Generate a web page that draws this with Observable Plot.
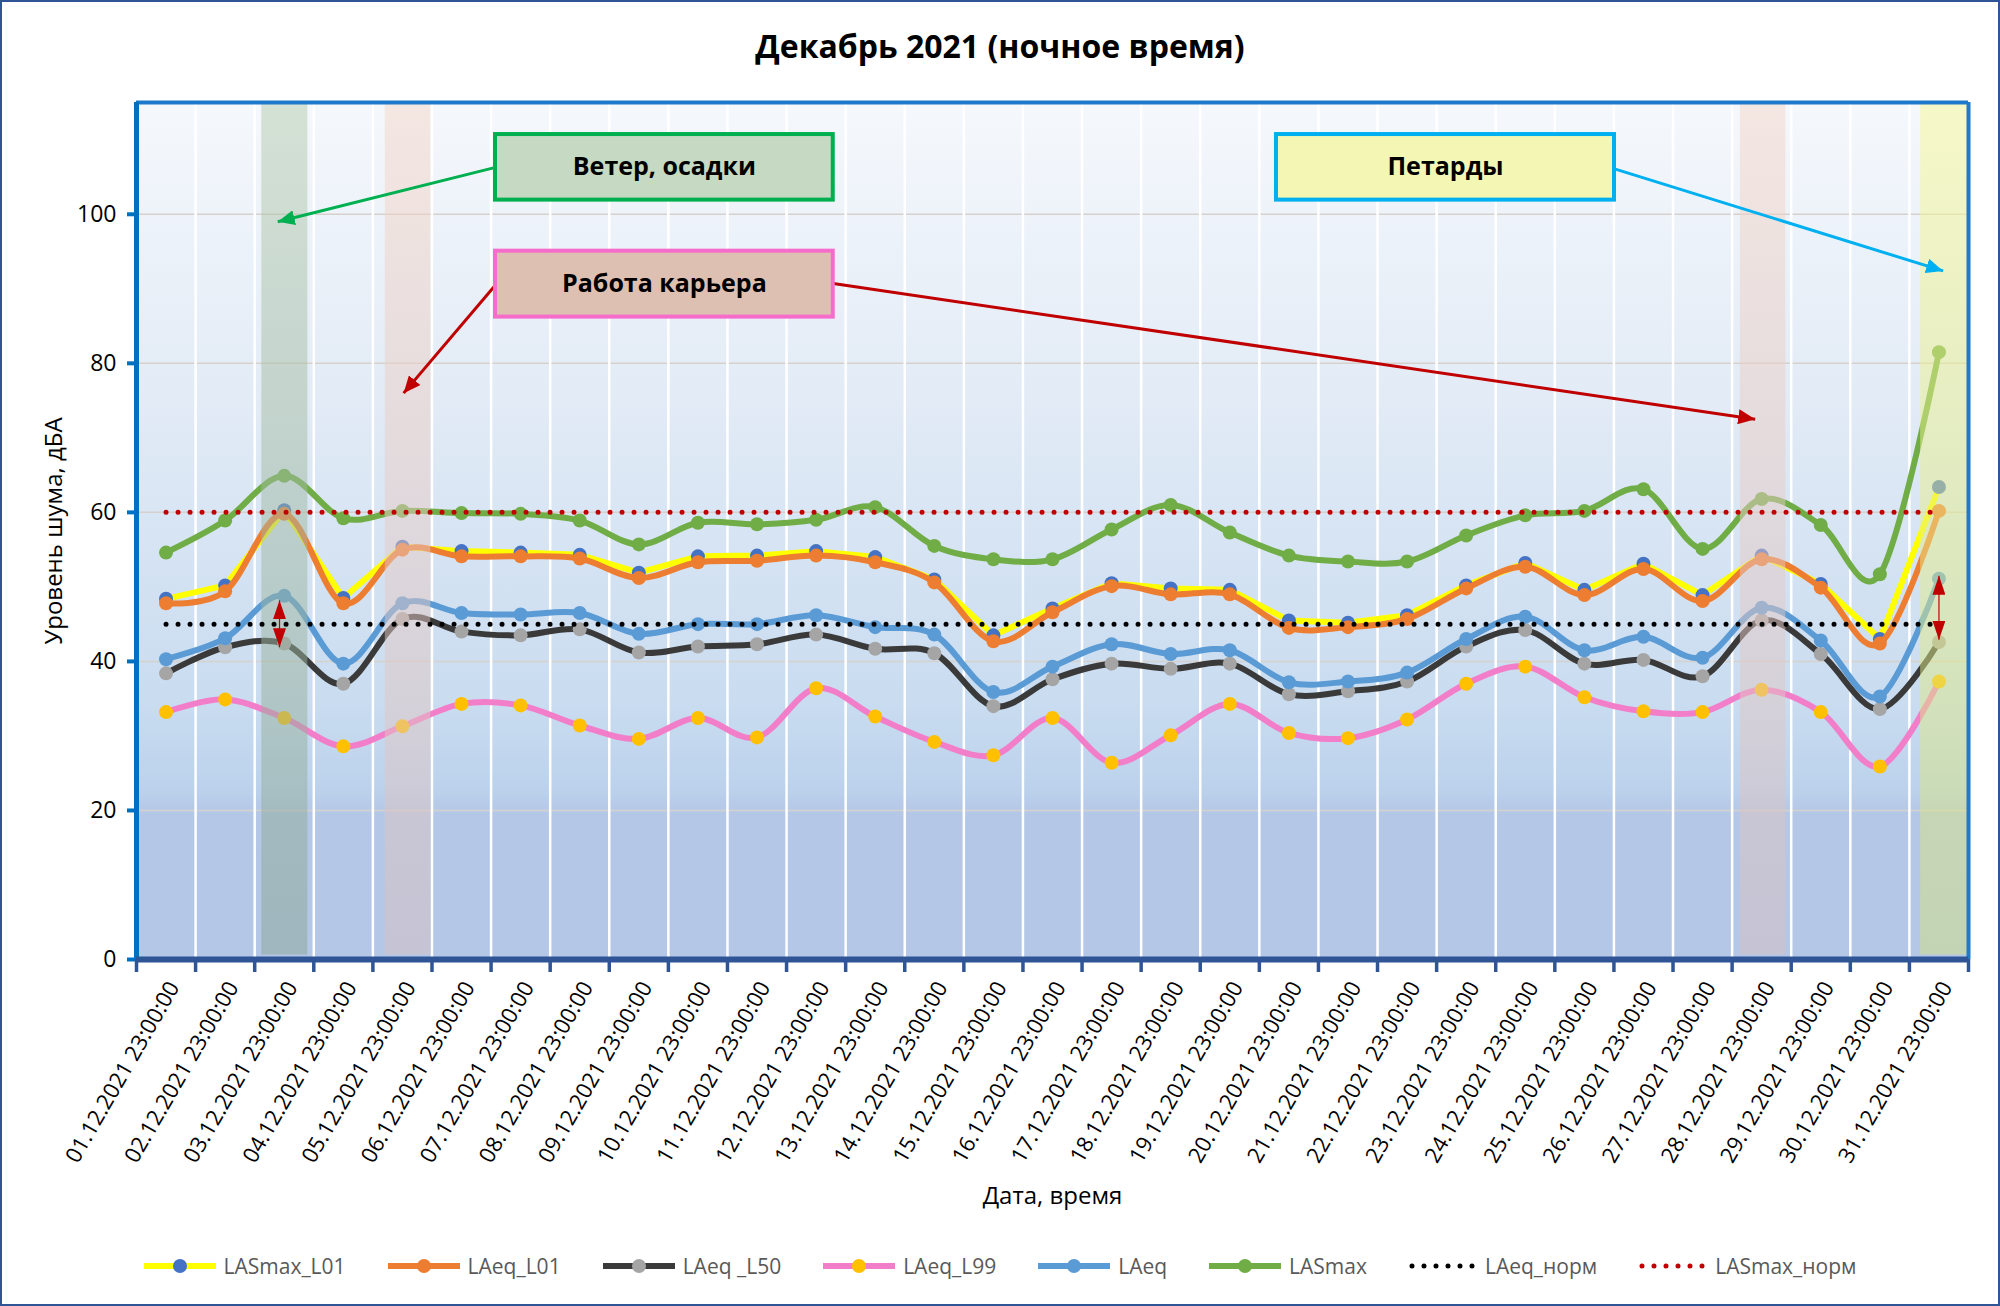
<!DOCTYPE html>
<html><head><meta charset="utf-8">
<script src="https://cdn.jsdelivr.net/npm/d3@7"></script>
<script src="https://cdn.jsdelivr.net/npm/@observablehq/plot@0.6"></script>
<style>
body{margin:0;background:#fff;}
#chart{position:relative;width:2000px;height:1306px;box-sizing:border-box;box-shadow:inset 0 0 0 2px #2F5597;font-family:"Open Sans",sans-serif;overflow:hidden;}
#title{height:80px;box-sizing:border-box;padding-top:25px;text-align:center;font-weight:bold;font-size:32px;line-height:42px;color:#000;}
#plot svg{display:block;}
#legend{height:72px;display:flex;justify-content:center;align-items:center;column-gap:42px;font-size:21px;color:#595959;}
.item{display:flex;align-items:center;gap:8px;}
</style></head>
<body>
<div id="chart">
  <div id="title">Декабрь 2021 (ночное время)</div>
  <div id="plot"></div>
  <div id="legend"></div>
</div>
<script>
// ---------- data ----------
const dateLabels = [
 "01.12.2021 23:00:00","02.12.2021 23:00:00","03.12.2021 23:00:00","04.12.2021 23:00:00","05.12.2021 23:00:00",
 "06.12.2021 23:00:00","07.12.2021 23:00:00","08.12.2021 23:00:00","09.12.2021 23:00:00","10.12.2021 23:00:00",
 "11.12.2021 23:00:00","12.12.2021 23:00:00","13.12.2021 23:00:00","14.12.2021 23:00:00","15.12.2021 23:00:00",
 "16.12.2021 23:00:00","17.12.2021 23:00:00","18.12.2021 23:00:00","19.12.2021 23:00:00","20.12.2021 23:00:00",
 "21.12.2021 23:00:00","22.12.2021 23:00:00","23.12.2021 23:00:00","24.12.2021 23:00:00","25.12.2021 23:00:00",
 "26.12.2021 23:00:00","27.12.2021 23:00:00","28.12.2021 23:00:00","29.12.2021 23:00:00","30.12.2021 23:00:00",
 "31.12.2021 23:00:00"];
const lasmaxL01 = [48.4,50.2,60.3,48.5,55.4,54.8,54.6,54.3,51.9,54.1,54.2,54.8,54.0,51.0,43.5,47.1,50.5,49.8,49.6,45.5,45.2,46.2,50.2,53.2,49.6,53.1,48.9,54.2,50.4,43.0,63.4];
const laeqL01   = [47.8,49.4,59.8,47.8,55.0,54.1,54.1,53.8,51.2,53.3,53.5,54.2,53.3,50.6,42.7,46.6,50.1,49.0,49.0,44.5,44.6,45.7,49.8,52.7,48.9,52.4,48.1,53.7,49.9,42.4,60.2];
const laeqL50   = [38.4,41.9,42.4,37.0,45.7,44.0,43.5,44.3,41.2,42.0,42.3,43.6,41.7,41.1,34.0,37.6,39.7,39.0,39.7,35.6,36.0,37.3,42.0,44.2,39.7,40.2,38.0,45.5,41.0,33.6,42.6];
const laeqL99   = [33.2,34.9,32.4,28.6,31.3,34.3,34.1,31.4,29.6,32.4,29.8,36.4,32.6,29.2,27.4,32.4,26.4,30.1,34.3,30.4,29.7,32.2,37.0,39.3,35.2,33.3,33.2,36.2,33.2,25.9,37.3];
const laeq      = [40.3,43.1,48.8,39.7,47.8,46.5,46.3,46.5,43.7,45.0,45.0,46.2,44.6,43.6,35.9,39.3,42.3,41.0,41.5,37.2,37.3,38.5,43.0,46.0,41.5,43.3,40.5,47.2,42.8,35.3,51.1];
const lasmax    = [54.6,58.9,64.9,59.2,60.2,59.9,59.8,58.9,55.7,58.6,58.4,59.0,60.7,55.5,53.7,53.7,57.7,61.0,57.3,54.2,53.4,53.4,56.9,59.6,60.2,63.1,55.1,61.8,58.3,51.7,81.5];
const laeqNorm = 45;
const lasmaxNorm = 60;
const yTicks = [0,20,40,60,80,100];
const yMax = 115;

// annotations (in data units: day index, dBA)
const shadeBands = [
  {name:"wind",  x1:1.62,  x2:2.40},
  {name:"quarry",x1:3.71,  x2:4.48},
  {name:"quarry",x1:26.64, x2:27.41},
  {name:"fire",  x1:29.69, x2:30.5}
];
const noteBoxes = [
  {name:"wind",   label:"Ветер, осадки",  x1:5.575, x2:11.29, y1:101.9, y2:110.7},
  {name:"quarry", label:"Работа карьера", x1:5.575, x2:11.29, y1:86.2,  y2:95.05},
  {name:"fire",   label:"Петарды",        x1:18.79, x2:24.51, y1:101.9, y2:110.7}
];
const noteArrows = [
  {name:"wind",   x1:5.575, y1:106.3, x2:1.89,  y2:99.0},
  {name:"quarry", x1:5.575, y1:90.5,  x2:4.02,  y2:76.0},
  {name:"quarry", x1:11.29, y1:90.7,  x2:26.89, y2:72.5},
  {name:"fire",   x1:24.51, y1:106.1, x2:30.07, y2:92.4}
];
const rangeArrows = [
  {x:1.92, y1:48.2, y2:41.9},
  {x:30.0, y1:51.5, y2:42.9}
];

// ---------- styles ----------
const seriesStyle = [
  {name:"LASmax_L01", values:lasmaxL01, line:"#FFFF00", dot:"#4472C4", curve:"linear"},
  {name:"LAeq_L01",   values:laeqL01,   line:"#ED7D31", dot:"#ED7D31", curve:"cardinal"},
  {name:"LAeq _L50",  values:laeqL50,   line:"#3A3A3A", dot:"#A5A5A5", curve:"cardinal"},
  {name:"LAeq_L99",   values:laeqL99,   line:"#F27EC9", dot:"#FFC000", curve:"cardinal"},
  {name:"LAeq",       values:laeq,      line:"#5B9BD5", dot:"#5B9BD5", curve:"cardinal"},
  {name:"LASmax",     values:lasmax,    line:"#70AD47", dot:"#70AD47", curve:"cardinal"}
];
const normStyle = [
  {name:"LAeq_норм",   value:laeqNorm,   color:"#000000"},
  {name:"LASmax_норм", value:lasmaxNorm, color:"#C00000"}
];
const boxStyle = {
  wind:   {fill:"#C5D9C3", stroke:"#00B050", band:"url(#gWind)",   arrow:"#00B050"},
  quarry: {fill:"#DEC0B2", stroke:"#F66CCB", band:"url(#gQuarry)", arrow:"#C00000"},
  fire:   {fill:"#F4F7B4", stroke:"#00B0F0", band:"url(#gFire)",   arrow:"#00B0F0"}
};

const NS = "http://www.w3.org/2000/svg";
function tri(len, wid) {
  return (color, context) => {
    const doc = (context && context.document) || document;
    const m = doc.createElementNS(NS, "marker");
    m.setAttribute("viewBox", `${-len} ${-wid/2} ${len} ${wid}`);
    m.setAttribute("markerWidth", len);
    m.setAttribute("markerHeight", wid);
    m.setAttribute("markerUnits", "userSpaceOnUse");
    m.setAttribute("orient", "auto-start-reverse");
    m.setAttribute("refX", 0);
    m.setAttribute("refY", 0);
    const p = doc.createElementNS(NS, "path");
    p.setAttribute("d", `M${-len},${-wid/2}L0,0L${-len},${wid/2}Z`);
    p.setAttribute("fill", color);
    p.setAttribute("stroke", "none");
    m.appendChild(p);
    return m;
  };
}

const days = d3.range(dateLabels.length);
const bounds = d3.range(dateLabels.length + 1).map(k => k - 0.5);
const inner = bounds.slice(1, -1);
const xDom = [bounds[0], bounds[bounds.length - 1]];

const marks = [];
marks.push(Plot.frame({fill: "url(#gBg)", stroke: "none"}));
marks.push(Plot.gridY(yTicks.filter(t => t > 0), {stroke: "#D6D1CC", strokeOpacity: 1, strokeWidth: 1.5}));
marks.push(Plot.ruleX(inner, {stroke: "#FFFFFF", strokeWidth: 2.5}));
for (const s of seriesStyle) {
  marks.push(Plot.line(days, {x: i => i, y: i => s.values[i], stroke: s.line, strokeWidth: 6, curve: s.curve, strokeLinejoin: "round"}));
  marks.push(Plot.dot(days, {x: i => i, y: i => s.values[i], r: 7, fill: s.dot}));
}
for (const b of shadeBands) {
  marks.push(Plot.rect([b], {x1: "x1", x2: "x2", y1: () => 0.6, y2: () => yMax, fill: boxStyle[b.name].band, fillOpacity: 0.5}));
}
for (const n of normStyle) {
  marks.push(Plot.line(days, {x: i => i, y: () => n.value, stroke: n.color, strokeWidth: 5, strokeDasharray: "0 12", strokeLinecap: "round"}));
}
marks.push(Plot.link(rangeArrows, {x1: "x", x2: "x", y1: "y1", y2: "y2", stroke: "#C00000", strokeWidth: 1.2, markerStart: tri(19, 13), markerEnd: tri(19, 13)}));
for (const a of noteArrows) {
  marks.push(Plot.link([a], {x1: "x1", y1: "y1", x2: "x2", y2: "y2", stroke: boxStyle[a.name].arrow, strokeWidth: 3, markerEnd: tri(17, 15)}));
}
for (const b of noteBoxes) {
  marks.push(Plot.rect([b], {x1: "x1", x2: "x2", y1: "y1", y2: "y2", fill: boxStyle[b.name].fill, stroke: boxStyle[b.name].stroke, strokeWidth: 4}));
}
marks.push(Plot.text(noteBoxes, {x: d => (d.x1 + d.x2) / 2, y: d => (d.y1 + d.y2) / 2, text: "label", fontWeight: "bold", fontSize: 25, fill: "#000"}));
// frame borders
marks.push(Plot.ruleY([yMax], {stroke: "#1F7ACB", strokeWidth: 4}));
marks.push(Plot.ruleX([xDom[1]], {stroke: "#1F7ACB", strokeWidth: 4}));
marks.push(Plot.ruleX([xDom[0]], {stroke: "#0070C0", strokeWidth: 5}));
marks.push(Plot.ruleY([0], {stroke: "#2F5597", strokeWidth: 6}));
// axes
marks.push(Plot.axisY(yTicks, {tickSize: 9, color: "#0070C0", strokeWidth: 4, tickFormat: () => "", label: null}));
marks.push(Plot.axisY(yTicks, {tickSize: 0, tickPadding: 20, color: "#000", fontSize: 23, tickFormat: d => String(d), label: null}));
marks.push(Plot.axisX(bounds, {tickSize: 13, color: "#2F5597", strokeWidth: 3.5, tickFormat: () => "", label: null}));
marks.push(Plot.axisX(days, {tickSize: 0, tickPadding: 24, dx: 8, tickRotate: -60, color: "#000", fontSize: 22, tickFormat: i => dateLabels[i], label: null}));
marks.push(Plot.text(["Дата, время"], {text: d => d, frameAnchor: "bottom", dy: 244, fontSize: 24, fill: "#000"}));
marks.push(Plot.text(["Уровень шума, дБА"], {text: d => d, frameAnchor: "left", textAnchor: "middle", lineAnchor: "middle", dx: -82, rotate: -90, fontSize: 24, fill: "#000"}));

const svg = Plot.plot({
  width: 2000, height: 1150,
  marginTop: 22, marginBottom: 271, marginLeft: 136, marginRight: 32,
  x: {type: "linear", domain: xDom},
  y: {type: "linear", domain: [0, yMax]},
  style: {background: "transparent", fontFamily: "Open Sans", overflow: "visible"},
  marks
});

const defs = d3.select(svg).insert("defs", ":first-child");
function grad(id, stops) {
  const g = defs.append("linearGradient").attr("id", id).attr("x1", 0).attr("y1", 0).attr("x2", 0).attr("y2", 1);
  for (const [o, c] of stops) g.append("stop").attr("offset", o).attr("stop-color", c);
}
grad("gBg", [[0, "#F5F8FC"], [0.35, "#E2EBF6"], [0.7, "#C9DCF0"], [0.80, "#BCD2EC"], [0.83, "#B4C7E7"], [1, "#B4C7E7"]]);
grad("gWind", [[0, "#B4CAAE"], [1, "#8CA695"]]);
grad("gQuarry", [[0, "#F4D5C7"], [1, "#D8C0C1"]]);
grad("gFire", [[0, "#F8F895"], [1, "#D2E181"]]);

document.getElementById("plot").appendChild(svg);

// legend
const legend = document.getElementById("legend");
function item(symbolSvg, text) {
  const d = document.createElement("div");
  d.className = "item";
  d.innerHTML = symbolSvg + `<span>${text}</span>`;
  legend.appendChild(d);
}
for (const s of seriesStyle) {
  item(`<svg width="72" height="20"><line x1="0" y1="10" x2="72" y2="10" stroke="${s.line}" stroke-width="6"/><circle cx="36" cy="10" r="7" fill="${s.dot}"/></svg>`, s.name);
}
for (const n of normStyle) {
  item(`<svg width="68" height="20"><line x1="3" y1="10" x2="66" y2="10" stroke="${n.color}" stroke-width="5" stroke-dasharray="0 12" stroke-linecap="round"/></svg>`, n.name);
}
</script>
</body></html>
